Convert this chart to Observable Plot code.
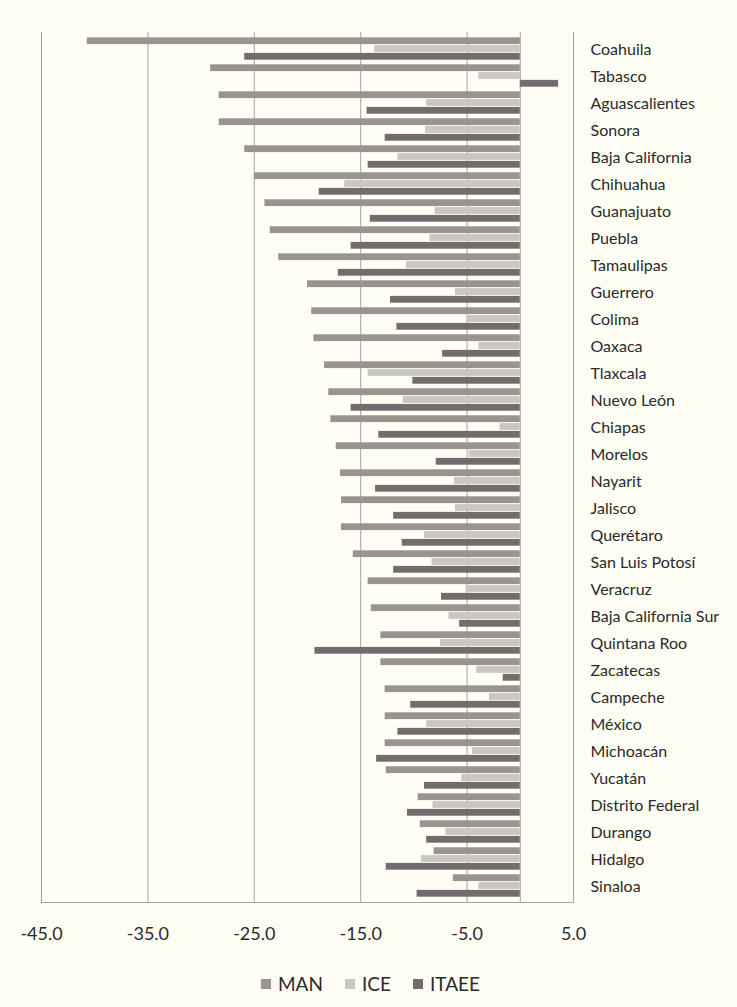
<!DOCTYPE html>
<html>
<head>
<meta charset="utf-8">
<script src="https://cdn.jsdelivr.net/npm/d3@7"></script>
<script src="https://cdn.jsdelivr.net/npm/@observablehq/plot@0.6"></script>
<style>
  html, body { margin: 0; padding: 0; background: #fefef4; }
  #chart { width: 737px; }
  #legend { display: flex; justify-content: center; align-items: center; gap: 22px;
    font-family: Lato, "Open Sans", sans-serif; font-size: 19px; color: #2a2a2a; margin-top: 14px; padding-left: 4px; }
  #legend .item { display: flex; align-items: center; gap: 7px; }
  #legend .sw { width: 10px; height: 10px; display: inline-block; }
</style>
</head>
<body>
<div id="chart"></div>
<div id="legend"></div>
<script>
const states = ["Coahuila","Tabasco","Aguascalientes","Sonora","Baja California","Chihuahua","Guanajuato","Puebla","Tamaulipas","Guerrero","Colima","Oaxaca","Tlaxcala","Nuevo León","Chiapas","Morelos","Nayarit","Jalisco","Querétaro","San Luis Potosí","Veracruz","Baja California Sur","Quintana Roo","Zacatecas","Campeche","México","Michoacán","Yucatán","Distrito Federal","Durango","Hidalgo","Sinaloa"];
const man   = [-40.7,-29.1,-28.3,-28.3,-25.9,-25.0,-24.0,-23.5,-22.7,-20.0,-19.6,-19.4,-18.4,-18.0,-17.8,-17.3,-16.9,-16.8,-16.8,-15.7,-14.3,-14.0,-13.1,-13.1,-12.7,-12.7,-12.7,-12.6,-9.6,-9.4,-8.1,-6.3];
const ice   = [-13.7,-3.9,-8.8,-8.9,-11.5,-16.5,-8.0,-8.5,-10.7,-6.1,-4.9,-3.9,-14.3,-11.0,-1.9,-4.8,-6.2,-6.1,-9.0,-8.3,-5.1,-6.7,-7.5,-4.1,-2.9,-8.8,-4.5,-5.5,-8.2,-7.0,-9.3,-3.9];
const itaee = [-25.9,3.6,-14.4,-12.7,-14.3,-18.9,-14.1,-15.9,-17.1,-12.2,-11.6,-7.3,-10.1,-15.9,-13.3,-7.9,-13.6,-11.9,-11.1,-11.9,-7.4,-5.7,-19.3,-1.6,-10.3,-11.5,-13.5,-9.0,-10.6,-8.8,-12.6,-9.7];
const seriesNames = ["MAN","ICE","ITAEE"];
const seriesColors = ["#9b9391","#c9c7c2","#736c6c"];
const xTicks = [-45,-35,-25,-15,-5,5];

const seriesValues = [man, ice, itaee];
const rows = states.flatMap((s, i) => seriesNames.map((name, k) => ({state: s, series: name, value: seriesValues[k][i]})));

const W = 737, H = 958, mTop = 32, mBottom = 56, mLeft = 41, mRight = 164;
const pInner = 0.14, pOuter = 0.07;
const yScale = Plot.scale({y: {type: "band", domain: states, range: [mTop, H - mBottom], paddingInner: pInner, paddingOuter: pOuter}});
const sub = yScale.bandwidth / 3;

const barMarks = seriesNames.map((name, k) => Plot.barX(rows.filter(d => d.series === name), {
  x: "value", y: "state", fill: seriesColors[k],
  insetTop: k * sub + 0.3, insetBottom: (2 - k) * sub + 0.3
}));

const chart = Plot.plot({
  width: W, height: H,
  marginTop: mTop, marginBottom: mBottom, marginLeft: mLeft, marginRight: mRight,
  style: {background: "#fefef4", fontFamily: "Lato, Open Sans, sans-serif", color: "#2a2a2a"},
  x: {domain: [-45, 5], axis: null},
  y: {domain: states, paddingInner: pInner, paddingOuter: pOuter, axis: null},
  marks: [
    Plot.ruleX(xTicks, {stroke: "#a3a3a3", strokeWidth: 1}),
    Plot.ruleX([0], {stroke: "#a3a3a3", strokeWidth: 1}),
    ...barMarks,
    Plot.frame({anchor: "bottom", stroke: "#a3a3a3"}),
    Plot.axisX({ticks: xTicks, tickSize: 0, tickPadding: 25, tickFormat: d => d.toFixed(1), fontSize: 18, fill: "#2a2a2a", label: null}),
    Plot.axisY({anchor: "right", tickSize: 0, tickPadding: 17, textAnchor: "start", fontSize: 16, fill: "#2a2a2a", label: null, dy: 1})
  ]
});
document.getElementById("chart").appendChild(chart);

const legend = document.getElementById("legend");
seriesNames.forEach((name, k) => {
  const it = document.createElement("span");
  it.className = "item";
  const sw = document.createElement("span");
  sw.className = "sw";
  sw.style.background = seriesColors[k];
  const tx = document.createElement("span");
  tx.textContent = name;
  it.appendChild(sw); it.appendChild(tx);
  legend.appendChild(it);
});
</script>
</body>
</html>
